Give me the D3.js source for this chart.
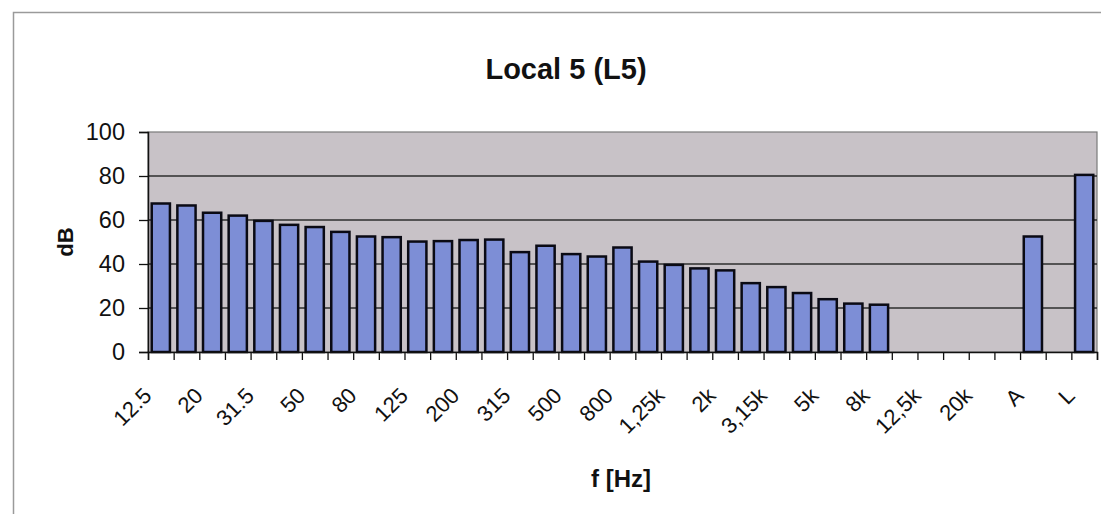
<!DOCTYPE html>
<html>
<head>
<meta charset="utf-8">
<script src="https://cdn.jsdelivr.net/npm/d3@7"></script>
<style>
  html, body { margin: 0; padding: 0; background: #ffffff; }
  svg { display: block; font-family: "Liberation Sans", Arial, sans-serif; }
</style>
</head>
<body>
<svg id="chart" width="1101" height="514"></svg>
<script>
// Third-octave bands (Hz) plus the A-weighted and linear totals
const bands = ["12.5", "16", "20", "25", "31.5", "40", "50", "63", "80", "100",
  "125", "160", "200", "250", "315", "400", "500", "630", "800", "1k",
  "1,25k", "1,6k", "2k", "2,5k", "3,15k", "4k", "5k", "6,3k", "8k", "10k",
  "12,5k", "16k", "20k", "", "A", "", "L"];

// Only every second band is labelled on the axis
const tickLabels = ["12.5", "20", "31.5", "50", "80", "125", "200", "315", "500", "800",
  "1,25k", "2k", "3,15k", "5k", "8k", "12,5k", "20k", "A", "L"];

// Sound pressure level per band, dB (null = not measured)
const levels = [67.5, 66.6, 63.3, 62.0, 59.6, 57.8, 56.8, 54.6, 52.5, 52.2,
  50.2, 50.4, 50.9, 51.1, 45.4, 48.3, 44.5, 43.4, 47.5, 41.1,
  39.6, 38.0, 37.1, 31.3, 29.5, 26.8, 24.0, 22.0, 21.5, null,
  null, null, null, null, 52.5, null, 80.5];

const yTicks = [0, 20, 40, 60, 80, 100];

const svg = d3.select("#chart");
const plot = { left: 148, right: 1097, top: 132, bottom: 352 };

// Outer chart frame
svg.append("rect")
  .attr("x", 13.5).attr("y", 12.5)
  .attr("width", 1110).attr("height", 530)
  .attr("fill", "#ffffff")
  .attr("stroke", "#9a9a9a").attr("stroke-width", 1.5);

const x = d3.scaleBand()
  .domain(d3.range(bands.length))
  .range([plot.left, plot.right])
  .paddingInner(0.29)
  .paddingOuter(0.145);

const y = d3.scaleLinear()
  .domain([0, 100])
  .range([plot.bottom, plot.top]);

// Plot area
svg.append("rect")
  .attr("x", plot.left).attr("y", plot.top)
  .attr("width", plot.right - plot.left).attr("height", plot.bottom - plot.top)
  .attr("fill", "#c8c2c7")
  .attr("stroke", "#7a7a7a").attr("stroke-width", 1.2);

// Horizontal gridlines
svg.append("g")
  .selectAll("line")
  .data(yTicks.filter(t => t > 0 && t < 100))
  .join("line")
  .attr("x1", plot.left).attr("x2", plot.right)
  .attr("y1", d => y(d)).attr("y2", d => y(d))
  .attr("stroke", "#2e2e2e").attr("stroke-width", 1.3);

// Bars
svg.append("g")
  .selectAll("rect")
  .data(levels.map((v, i) => ({ i, v })).filter(d => d.v !== null))
  .join("rect")
  .attr("x", d => x(d.i))
  .attr("width", x.bandwidth())
  .attr("y", d => y(d.v))
  .attr("height", d => y(0) - y(d.v))
  .attr("fill", "#7d8ed6")
  .attr("stroke", "#0a0a14").attr("stroke-width", 2.5);

// Y axis
const yAxis = svg.append("g")
  .attr("transform", `translate(${plot.left},0)`)
  .call(d3.axisLeft(y).tickValues(yTicks).tickSize(9).tickPadding(14));
yAxis.select(".domain").attr("stroke", "#111").attr("stroke-width", 1.5);
yAxis.selectAll(".tick line").attr("stroke", "#111").attr("stroke-width", 1.3);
yAxis.selectAll(".tick text")
  .attr("fill", "#111")
  .style("font-size", "23.5px");

// X axis: ticks on the band boundaries
const xAxisScale = d3.scaleLinear().domain([0, bands.length]).range([plot.left, plot.right]);
const xAxis = svg.append("g")
  .attr("transform", `translate(0,${plot.bottom})`)
  .call(d3.axisBottom(xAxisScale).tickValues(d3.range(bands.length + 1)).tickSize(8).tickFormat(""));
xAxis.select(".domain").attr("stroke", "#111").attr("stroke-width", 1.5);
xAxis.selectAll(".tick line").attr("stroke", "#111").attr("stroke-width", 1.3);

// Rotated band labels
svg.append("g")
  .selectAll("text")
  .data(bands.map((b, i) => ({ b, i })).filter(d => d.b !== "" && d.i % 2 === 0 && tickLabels.includes(d.b)))
  .join("text")
  .attr("transform", d => `translate(${x(d.i) + x.bandwidth() / 2 - 8},${plot.bottom + 45}) rotate(-45)`)
  .attr("text-anchor", "end")
  .attr("fill", "#111")
  .style("font-size", "22px")
  .text(d => d.b);

// Title
svg.append("text")
  .attr("x", 566).attr("y", 79)
  .attr("text-anchor", "middle")
  .attr("fill", "#111")
  .style("font-size", "29px").style("font-weight", "bold")
  .text("Local 5 (L5)");

// Axis titles
svg.append("text")
  .attr("transform", `translate(73,${(plot.top + plot.bottom) / 2}) rotate(-90)`)
  .attr("text-anchor", "middle")
  .attr("fill", "#111")
  .style("font-size", "22px").style("font-weight", "bold")
  .text("dB");

svg.append("text")
  .attr("x", 621).attr("y", 487)
  .attr("text-anchor", "middle")
  .attr("fill", "#111")
  .style("font-size", "24px").style("font-weight", "bold")
  .text("f [Hz]");
</script>
</body>
</html>
